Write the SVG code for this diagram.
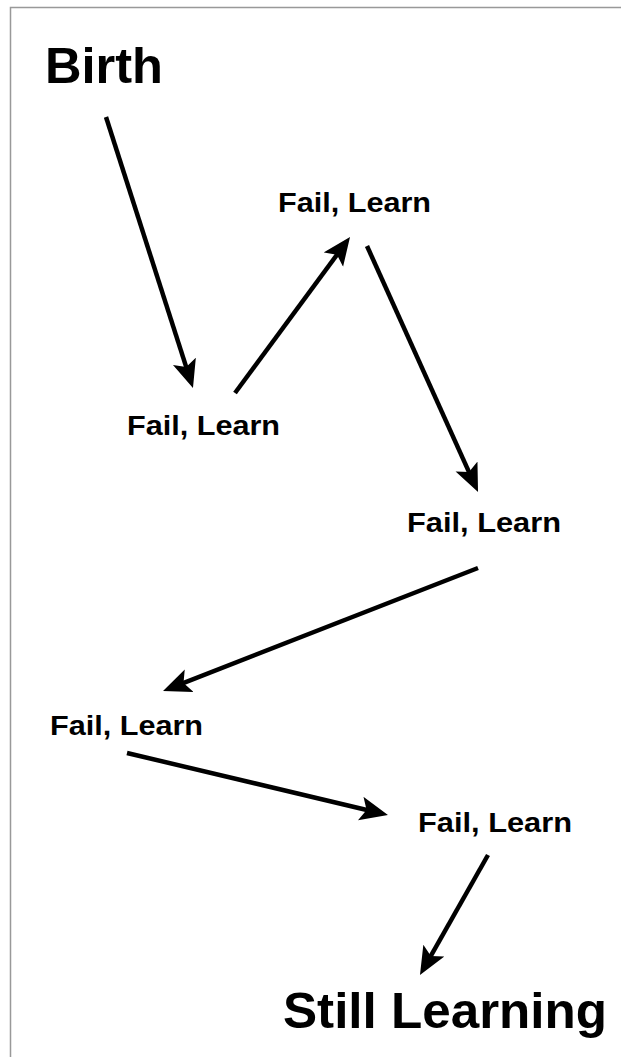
<svg xmlns="http://www.w3.org/2000/svg" width="621" height="1057" viewBox="0 0 621 1057">
<style>
.t{font-family:"Liberation Sans",Arial,sans-serif;font-weight:bold;fill:#000}
.s{font-size:28px}
.b{font-size:50px}
.c{stroke:#000;stroke-width:4.5;fill:none}
</style>
<defs>
<marker id="ah" markerUnits="userSpaceOnUse" markerWidth="30" markerHeight="26" refX="16" refY="12" orient="auto">
<path d="M0,0 L28,12 L0,24 L6,12 Z" fill="#000"/>
</marker>
</defs>
<rect width="621" height="1057" fill="#fff"/>
<path d="M10.5,1057 V7.5 H621" fill="none" stroke="#999" stroke-width="1.5"/>
<g id="birth"><text class="t b" x="45" y="83" textLength="118" lengthAdjust="spacingAndGlyphs">Birth</text></g>
<g id="fail1"><text class="t s" x="278" y="212" textLength="153" lengthAdjust="spacingAndGlyphs">Fail, Learn</text></g>
<g id="fail2"><text class="t s" x="127" y="435" textLength="153" lengthAdjust="spacingAndGlyphs">Fail, Learn</text></g>
<g id="fail3"><text class="t s" x="407" y="532" textLength="154" lengthAdjust="spacingAndGlyphs">Fail, Learn</text></g>
<g id="fail4"><text class="t s" x="50" y="735" textLength="153" lengthAdjust="spacingAndGlyphs">Fail, Learn</text></g>
<g id="fail5"><text class="t s" x="418" y="832" textLength="154" lengthAdjust="spacingAndGlyphs">Fail, Learn</text></g>
<g id="still"><text class="t b" x="283" y="1028" textLength="324" lengthAdjust="spacingAndGlyphs">Still Learning</text></g>
<g id="connectors">
<line class="c" x1="106" y1="117" x2="189.3" y2="376.6" marker-end="url(#ah)"/>
<line class="c" x1="235" y1="393" x2="342.9" y2="246.7" marker-end="url(#ah)"/>
<line class="c" x1="367" y1="246" x2="473.1" y2="481.1" marker-end="url(#ah)"/>
<line class="c" x1="478" y1="568" x2="174.2" y2="686.6" marker-end="url(#ah)"/>
<line class="c" x1="127" y1="753" x2="376.3" y2="812.2" marker-end="url(#ah)"/>
<line class="c" x1="488" y1="855" x2="425.9" y2="964.6" marker-end="url(#ah)"/>
</g>
</svg>
